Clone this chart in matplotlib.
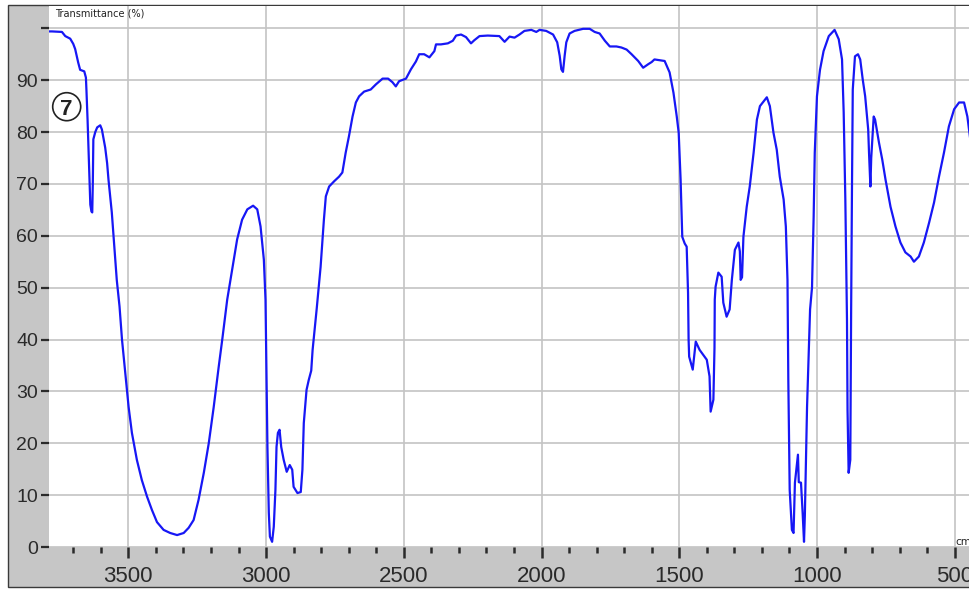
import numpy as np
import matplotlib
matplotlib.use('Agg')
from matplotlib import pyplot as plt
from matplotlib.patches import Rectangle, Ellipse
from matplotlib.ticker import MultipleLocator

# IR spectrum (wavenumber cm-1, transmittance %)
wavenumber = [
    3788, 3777, 3741, 3729, 3711, 3700, 3693, 3682, 3675, 3660, 3654, 3652, 3648, 3644,
    3641, 3638, 3634, 3631, 3629, 3627, 3620, 3613, 3602, 3596, 3591, 3584, 3577, 3572,
    3560, 3551, 3542, 3532, 3523, 3511, 3499, 3487, 3469, 3451, 3432, 3414, 3396, 3372,
    3348, 3323, 3299, 3281, 3263, 3245, 3226, 3208, 3190, 3172, 3159, 3141, 3123, 3105,
    3087, 3068, 3047, 3032, 3020, 3008, 3002, 2998, 2995, 2990, 2986, 2978, 2972, 2966,
    2962, 2957, 2951, 2945, 2936, 2925, 2914, 2905, 2900, 2886, 2874, 2868, 2863, 2853,
    2845, 2836, 2831, 2816, 2802, 2790, 2783, 2771, 2753, 2735, 2723, 2711, 2699, 2686,
    2674, 2662, 2644, 2620, 2601, 2577, 2557, 2541, 2529, 2517, 2492, 2474, 2456, 2444,
    2426, 2407, 2389, 2383, 2365, 2340, 2322, 2310, 2292, 2274, 2256, 2244, 2225, 2195,
    2153, 2134, 2116, 2098, 2080, 2062, 2037, 2019, 2007, 1983, 1958, 1943, 1934, 1928,
    1922, 1916, 1910, 1898, 1880, 1849, 1825, 1807, 1789, 1770, 1752, 1728, 1710, 1691,
    1673, 1649, 1631, 1612, 1600, 1590, 1553, 1535, 1521, 1509, 1502, 1495, 1489, 1480,
    1473, 1468, 1466, 1464, 1451, 1440, 1426, 1400, 1390, 1386, 1376, 1372, 1371, 1368,
    1358, 1346, 1340, 1328, 1317, 1309, 1298, 1285, 1280, 1277, 1272, 1267, 1255, 1244,
    1230, 1218, 1207, 1182, 1171, 1158, 1146, 1135, 1121, 1113, 1107, 1104, 1099, 1091,
    1085, 1080, 1069, 1066, 1058, 1052, 1047, 1044, 1036, 1025, 1018, 1012, 1008, 1000,
    989, 976, 957, 936, 921, 909, 903, 897, 891, 889, 885, 879, 876, 873,
    870, 862, 851, 843, 834, 825, 814, 811, 806, 803, 794, 789, 775, 763,
    751, 733, 715, 697, 679, 660, 648, 630, 612, 593, 575, 557, 539, 521,
    502, 484, 466, 454, 442, 436,
]
transmittance = [
    99.4, 99.4, 99.3, 98.5, 98.0, 97.0, 96.0, 93.4, 92.0, 91.7, 90.5, 88.0, 82.4, 76.0,
    71.8, 66.0, 64.7, 64.5, 70.0, 78.6, 80.0, 80.9, 81.3, 80.5, 79.0, 77.0, 74.0, 70.8,
    64.5, 58.0, 51.5, 46.4, 40.0, 33.6, 27.0, 22.0, 16.8, 12.9, 9.7, 7.1, 4.8, 3.3,
    2.7, 2.3, 2.7, 3.7, 5.2, 9.1, 14.3, 20.0, 27.0, 34.7, 40.0, 47.7, 53.5, 59.3,
    63.1, 65.1, 65.8, 65.1, 61.8, 55.4, 47.7, 32.2, 19.3, 6.6, 2.0, 1.0, 3.9, 11.0,
    19.3, 22.0, 22.6, 19.3, 16.8, 14.5, 15.8, 14.9, 11.6, 10.4, 10.6, 14.9, 23.9, 30.3,
    32.2, 34.0, 38.0, 46.0, 54.0, 63.1, 67.6, 69.5, 70.5, 71.4, 72.2, 76.0, 79.2, 83.0,
    85.7, 86.9, 87.8, 88.2, 89.2, 90.3, 90.3, 89.6, 88.8, 89.8, 90.3, 92.1, 93.6, 95.0,
    95.0, 94.4, 95.6, 96.9, 96.9, 97.1, 97.6, 98.6, 98.8, 98.3, 97.1, 97.7, 98.5, 98.6,
    98.5, 97.4, 98.4, 98.2, 98.8, 99.5, 99.7, 99.3, 99.7, 99.5, 98.8, 97.3, 94.7, 92.1,
    91.6, 94.7, 97.3, 99.0, 99.5, 99.9, 99.9, 99.3, 99.0, 97.6, 96.5, 96.5, 96.3, 95.9,
    95.0, 93.7, 92.4, 93.1, 93.5, 94.0, 93.7, 91.5, 87.6, 83.0, 79.9, 70.8, 59.8, 58.5,
    57.9, 49.0, 40.0, 36.7, 34.2, 39.6, 38.0, 36.1, 32.9, 26.1, 28.4, 38.4, 47.7, 50.2,
    52.9, 52.1, 47.1, 44.4, 45.8, 51.5, 57.3, 58.7, 57.0, 51.5, 52.0, 59.8, 65.6, 69.5,
    76.0, 82.4, 85.0, 86.7, 85.0, 79.9, 76.6, 71.4, 67.0, 61.8, 51.5, 32.2, 11.0, 3.3,
    2.7, 12.4, 17.8, 12.5, 12.4, 6.6, 1.0, 6.0, 27.0, 45.8, 50.0, 63.7, 76.0, 86.9,
    92.0, 95.6, 98.5, 99.7, 97.9, 94.0, 83.8, 67.0, 43.8, 26.4, 14.3, 16.8, 45.0, 68.3,
    88.2, 94.6, 95.0, 94.0, 90.2, 86.9, 80.5, 76.0, 69.5, 75.0, 83.0, 82.4, 78.0, 74.7,
    70.8, 65.6, 61.8, 58.7, 56.8, 56.0, 55.0, 56.0, 58.7, 62.5, 66.4, 71.4, 76.0, 81.1,
    84.4, 85.7, 85.7, 83.0, 78.0, 75.0,
]

y_ticks = [0, 10, 20, 30, 40, 50, 60, 70, 80, 90, 100]
y_labels = ['0', '10', '20', '30', '40', '50', '60', '70', '80', '90', '']
x_ticks = [3500, 3000, 2500, 2000, 1500, 1000, 500]

W, H = 969, 589
fig = plt.figure(figsize=(W / 100, H / 100), dpi=100)
fig.patch.set_facecolor('white')

# gray instrument frame behind the plot
frame = Rectangle((8 / W, 2 / H), 1.2, (587 - 5) / H, transform=fig.transFigure,
                  facecolor='#c6c6c6', edgecolor='#3a3a3a', linewidth=1.0, zorder=-5)
fig.add_artist(frame)

ax = fig.add_axes([49 / W, 42 / H, (W - 49) / W + 0.002, (547 - 6) / H])
ax.set_facecolor('white')

ax.plot(wavenumber, transmittance, color='#1717f5', linewidth=1.6, zorder=3)

ax.set_xlim(3788, 441)
ax.set_ylim(0, 104.3)

for s in ax.spines.values():
    s.set_visible(False)

ax.set_yticks(y_ticks)
ax.set_yticklabels(y_labels)
ax.set_xticks(x_ticks)
ax.set_xticklabels([str(v) for v in x_ticks])
ax.xaxis.set_minor_locator(MultipleLocator(100))

ax.grid(True, which='major', color='#c4c4c4', linewidth=1.2, zorder=0)
ax.set_axisbelow(True)

ax.tick_params(axis='y', direction='out', length=6, width=1.6, color='#2a2a2a',
               pad=2, labelsize=14, labelcolor='#2a2a2a')
ax.tick_params(axis='x', which='major', direction='out', length=8, width=1.8,
               color='#2a2a2a', pad=6, labelsize=16, labelcolor='#2a2a2a')
ax.tick_params(axis='x', which='minor', direction='out', length=4.5, width=1.8,
               color='#2a2a2a')
for lab in ax.get_xticklabels() + ax.get_yticklabels():
    lab.set_family('Liberation Sans')

fig.text(55 / W, 1 - 14 / H, 'Transmittance (%)', fontsize=7, ha='left', va='center',
         color='#222222')
fig.text(955 / W, 1 - 545 / H, 'cm', fontsize=7.5, ha='left', va='baseline',
         color='#222222')

# sample number in a circle
fig.add_artist(Ellipse((66.7 / W, 1 - 106.7 / H), 28 / W, 28 / H, transform=fig.transFigure,
                       facecolor='white', edgecolor='#222222', linewidth=1.2, zorder=10))
fig.text(66.7 / W, 1 - 115 / H, '7', fontsize=16, fontweight='bold', family='Liberation Sans',
         ha='center', va='baseline', color='#222222', zorder=11)

fig.savefig('out.png', dpi=100)
